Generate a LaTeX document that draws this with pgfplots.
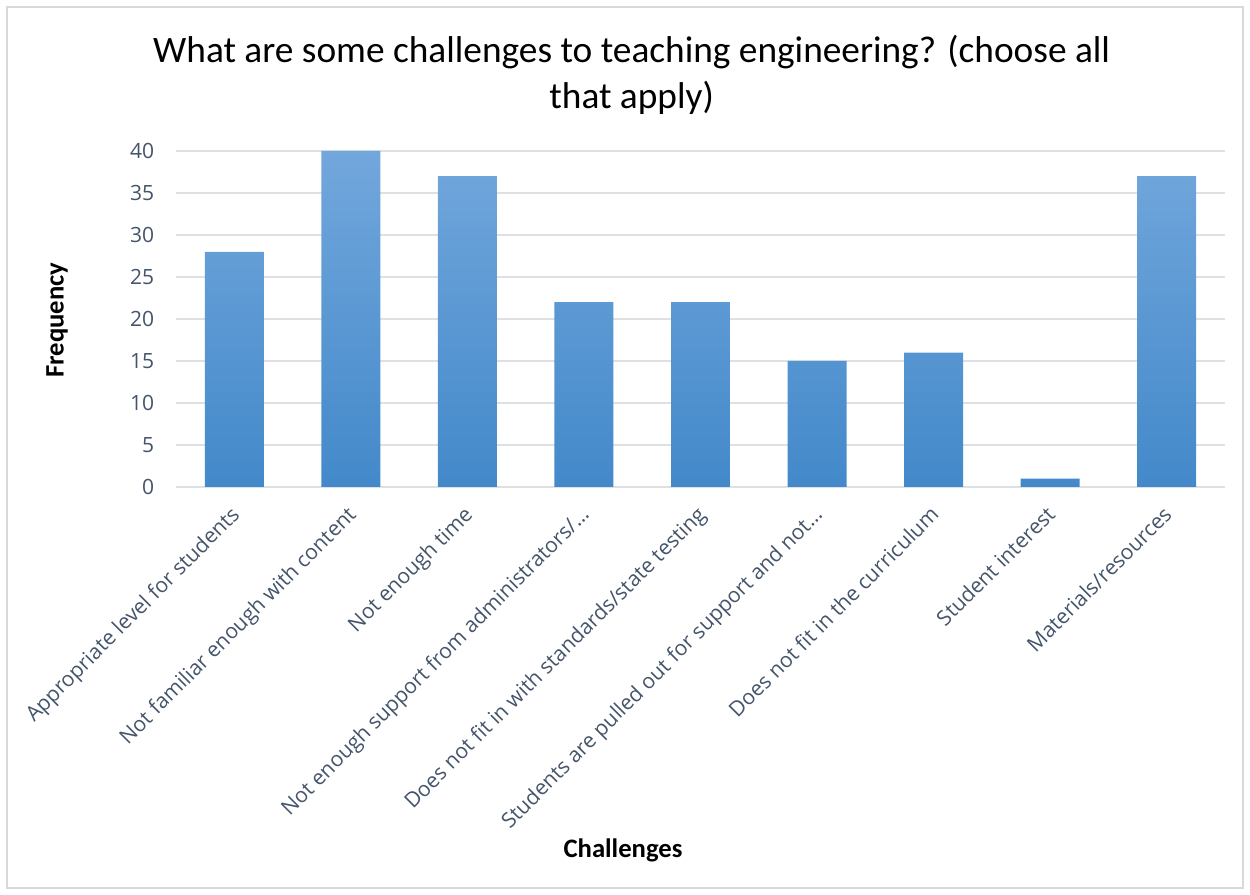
\documentclass[border=0pt]{standalone}
\usepackage{fontspec}
\setmainfont{Carlito}
\newfontfamily\tickfont{Open Sans}
\usepackage{pgfplots}
\pgfplotsset{compat=1.18}
\definecolor{gridc}{RGB}{222,224,228}
\definecolor{framec}{RGB}{217,217,217}
\definecolor{ticktext}{RGB}{68,84,106}
\definecolor{bartop}{RGB}{114,167,220}
\definecolor{barmid}{RGB}{85,155,220}
\definecolor{barbot}{RGB}{67,137,202}
\begin{document}
\begin{tikzpicture}
\path[use as bounding box] (0pt,0pt) rectangle (750pt,537pt);
\draw[framec, line width=0.75pt] (4.2pt,4.2pt) rectangle (745.8pt,532.8pt);
\begin{axis}[
  at={(105.6pt,244.8pt)}, anchor=south west,
  scale only axis, width=629.4pt, height=201.6pt,
  ymin=0, ymax=40, ytick={0,5,...,40},
  xmin=-0.5, xmax=8.5, xtick={0,...,8},
  xticklabels={Appropriate level for students,Not familiar enough with content,Not enough time,Not enough support from administrators/…,Does not fit in with standards/state testing,Students are pulled out for support and not…,Does not fit in the curriculum,Student interest,Materials/resources},
  axis line style={draw=none},
  major tick length=0pt,
  ymajorgrids, grid style={gridc, line width=1pt},
  yticklabel style={font=\tickfont\fontsize{12.6}{15}\selectfont, text=ticktext, anchor=east, xshift=-9.6pt},
  xticklabel style={font=\tickfont\fontsize{12.6}{15}\selectfont, text=ticktext, xshift=-3pt, yshift=-9pt, rotate=45, anchor=north east, inner sep=1pt},
  /pgf/number format/assume math mode=true,
  clip=false,
]
\addplot[ybar, bar width=0.506, draw=none, top color=bartop, middle color=barmid, bottom color=barbot]
  coordinates {(0,28) (1,40) (2,37) (3,22) (4,22) (5,15) (6,16) (7,1) (8,37)};
\end{axis}
\node[font=\fontsize{22.4}{28}\selectfont, align=center, text=black] at (379pt,492pt) {What are some challenges to teaching engineering? (choose all\\that apply)};
\node[font=\fontsize{16}{19}\selectfont\bfseries, rotate=90] at (34.2pt,345pt) {Frequency};
\node[font=\fontsize{16}{19}\selectfont\bfseries] at (373.8pt,27pt) {Challenges};
\end{tikzpicture}
\end{document}
